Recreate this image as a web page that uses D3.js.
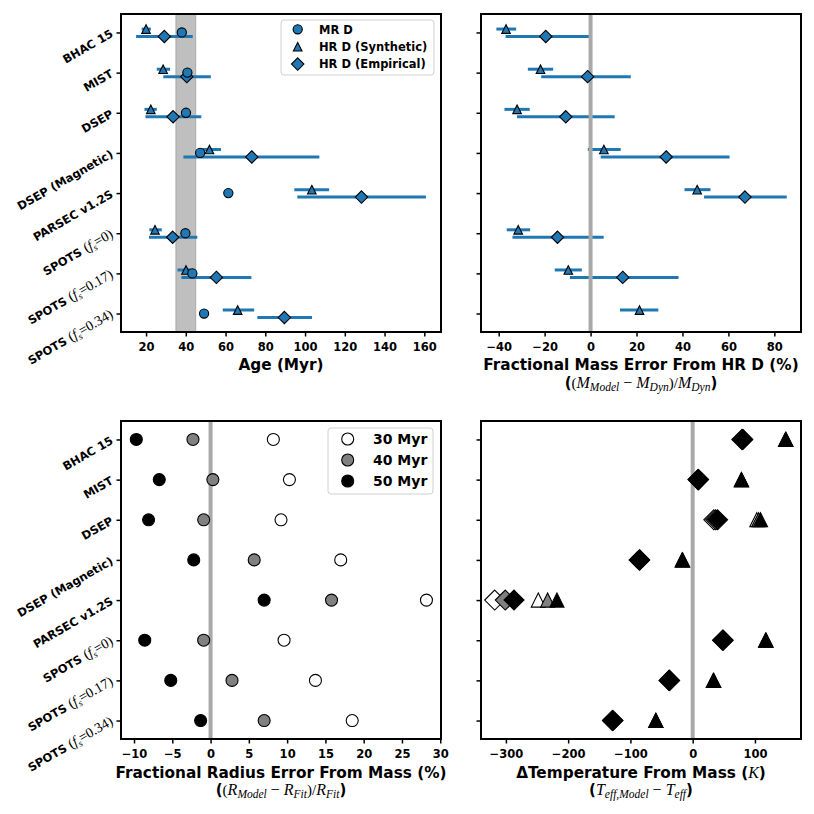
<!DOCTYPE html>
<html>
<head>
<meta charset="utf-8">
<script src="https://cdn.jsdelivr.net/npm/d3@7"></script>
<style>
body { margin: 0; background: #fff; }
text { font-family: "DejaVu Sans", sans-serif; }
</style>
</head>
<body>
<svg id="fig" width="814" height="814"></svg>
<script>
// ---- data ----
var models = ['BHAC 15', 'MIST', 'DSEP', 'DSEP (Magnetic)', 'PARSEC v1.2S', 'SPOTS', 'SPOTS', 'SPOTS'];
var spotFrac = [null, null, null, null, null, '0', '0.17', '0.34'];

// Age (Myr)
var ageMR     = [38.0, 40.8, 40.1, 47.2, 61.4, 39.8, 43.3, 49.2];
var ageSyn    = [20.0, 28.6, 22.4, 51.9, 103.4, 24.5, 40.1, 66.1];
var ageSynLo  = [17.8, 25.4, 19.2, 46.8, 94.6, 21.7, 35.8, 58.6];
var ageSynHi  = [22.4, 32.1, 25.4, 57.7, 112.1, 27.9, 42.5, 74.4];
var ageEmp    = [29.2, 40.5, 33.6, 73.2, 128.4, 33.4, 55.4, 89.6];
var ageEmpLo  = [15.0, 28.7, 19.7, 38.8, 96.1, 21.5, 37.8, 76.0];
var ageEmpHi  = [43.5, 52.6, 47.8, 107.2, 160.8, 45.8, 73.0, 103.5];
var ageBand   = [35, 45];

// fractional mass error from HR D (%)
var massSyn   = [-36.8, -21.8, -32.0, 5.8, 46.4, -31.5, -9.7, 21.3];
var massSynLo = [-41.0, -27.3, -37.5, -1.2, 40.9, -36.5, -15.6, 12.8];
var massSynHi = [-32.4, -16.3, -26.5, 13.1, 52.2, -26.3, -3.8, 29.5];
var massEmp   = [-19.5, -1.3, -10.8, 32.9, 67.2, -14.4, 14.0, null];
var massEmpLo = [-37.0, -21.5, -32.0, 4.4, 49.4, -34.0, -9.0, null];
var massEmpHi = [-0.3, 17.5, 10.5, 60.5, 85.4, 5.7, 38.3, null];

// fractional radius error from mass (%)
var rad30 = [8.2, 10.3, 9.2, 17.0, 28.2, 9.6, 13.7, 18.5];
var rad40 = [-2.3, 0.3, -0.9, 5.7, 15.8, -0.9, 2.8, 7.0];
var rad50 = [-9.7, -6.7, -8.1, -2.2, 7.0, -8.6, -5.2, -1.3];

// delta temperature from mass (K): diamonds (empirical) and triangles (synthetic)
var tEmp30 = [79, 8.5, 34, -86, -318, 48, -38, -129];
var tEmp40 = [80, 9, 37, -85.5, -301, 48.5, -37.5, -128.5];
var tEmp50 = [80.5, 9.5, 40, -85, -287, 49, -37, -128];
var tSyn30 = [149, 78, 103, -17, -248, 117, 33, -59.5];
var tSyn40 = [149.5, 78.5, 106, -16.5, -233, 117.5, 33.5, -59];
var tSyn50 = [150, 78.5, 109, -16, -218, 118, 34, -59];

var ageTicks  = [20, 40, 60, 80, 100, 120, 140, 160];
var massTicks = [-40, -20, 0, 20, 40, 60, 80];
var radTicks  = [-10, -5, 0, 5, 10, 15, 20, 25, 30];
var tempTicks = [-300, -200, -100, 0, 100];

var ageLegend = ['MR D', 'HR D (Synthetic)', 'HR D (Empirical)'];
var radLegend = ['30 Myr', '40 Myr', '50 Myr'];

// ---- styling ----
var blue = '#1f77b4';
var fills = ['#ffffff', '#808080', '#000000'];
var serif = '"Liberation Serif", "DejaVu Serif", serif';
var W = 320, H = 318;

var fig = d3.select('#fig');

function diamond(r) { return `M0,${-r}L${r},0L0,${r}L${-r},0Z`; }
function triangle(r) { return `M0,${-r}L${r},${r}L${-r},${r}Z`; }

// appends tspans; parts with sub get lowered by that many px
function rich(t, parts) {
	var shift = 0;
	parts.forEach(function (p) {
		var ts = t.append('tspan').text(p.t);
		if (p.serif) ts.attr('font-family', serif).attr('font-weight', 'normal');
		if (p.it) ts.attr('font-style', 'italic');
		if (p.size) ts.attr('font-size', p.size);
		var want = p.sub ? p.sub : 0;
		if (want != shift) { ts.attr('dy', want - shift); shift = want; }
	});
}

function panel(px, py, xDomain, xTicks, showLabels) {
	var g = fig.append('g').attr('transform', `translate(${px},${py})`);
	var x = d3.scaleLinear().domain(xDomain).range([0, W]);
	var y = d3.scaleLinear().domain([-0.46, models.length - 0.54]).range([0, H]);
	var back = g.append('g'), bars = g.append('g'), ref = g.append('g'), marks = g.append('g');

	var xa = g.append('g').attr('transform', `translate(0,${H})`)
		.call(d3.axisBottom(x).tickValues(xTicks).tickSize(4.5).tickPadding(6).tickSizeOuter(0));
	xa.select('.domain').remove();
	xa.selectAll('line').attr('stroke', '#000').attr('stroke-width', 1.5);
	xa.selectAll('text').attr('font-size', 11.5).attr('font-weight', 'bold')
		.attr('font-family', '"DejaVu Sans", sans-serif').attr('fill', '#000');

	var ya = g.append('g')
		.call(d3.axisLeft(y).tickValues(d3.range(models.length)).tickSize(4.5).tickFormat(''));
	ya.select('.domain').remove();
	ya.selectAll('line').attr('stroke', '#000').attr('stroke-width', 1.5);

	if (showLabels) {
		models.forEach(function (m, i) {
			var t = g.append('text')
				.attr('transform', `translate(-9,${y(i)}) rotate(-30)`)
				.attr('y', 4)
				.attr('text-anchor', 'end')
				.attr('font-size', 11.5).attr('font-weight', 'bold');
			if (spotFrac[i] == null) {
				t.text(m);
			} else {
				rich(t, [
					{ t: m + ' ' },
					{ t: '(', serif: true, size: 14 },
					{ t: 'f', serif: true, it: true, size: 14 },
					{ t: 's', serif: true, it: true, size: 9.5, sub: 3 },
					{ t: '=' + spotFrac[i] + ')', serif: true, size: 14 }
				]);
			}
		});
	}

	g.append('rect').attr('width', W).attr('height', H)
		.attr('fill', 'none').attr('stroke', '#000').attr('stroke-width', 2);

	return { g: g, x: x, y: y, back: back, bars: bars, ref: ref, marks: marks };
}

function xLabel(p, dyMain, dySub, mainParts, subParts) {
	var t = p.g.append('text').attr('x', W / 2).attr('y', H + dyMain)
		.attr('text-anchor', 'middle').attr('font-size', 15.3).attr('font-weight', 'bold');
	rich(t, mainParts);
	if (subParts) {
		var s = p.g.append('text').attr('x', W / 2).attr('y', H + dySub)
			.attr('text-anchor', 'middle').attr('font-size', 15).attr('font-weight', 'bold');
		rich(s, subParts);
	}
}

function errBars(p, lo, hi, off) {
	lo.forEach(function (l, i) {
		if (l == null) return;
		p.bars.append('line')
			.attr('x1', p.x(l)).attr('x2', p.x(hi[i]))
			.attr('y1', p.y(i + off)).attr('y2', p.y(i + off))
			.attr('stroke', blue).attr('stroke-width', 3);
	});
}

function refLine(p, v) {
	p.ref.append('line').attr('x1', p.x(v)).attr('x2', p.x(v))
		.attr('y1', 0).attr('y2', H)
		.attr('stroke', '#a9a9a9').attr('stroke-width', 4);
}

function plotShape(p, vals, kind, r, fill, off) {
	vals.forEach(function (v, i) {
		if (v == null) return;
		var cx = p.x(v), cy = p.y(i + off), m;
		if (kind == 'circle') {
			m = p.marks.append('circle').attr('cx', cx).attr('cy', cy).attr('r', r);
		} else {
			m = p.marks.append('path').attr('transform', `translate(${cx},${cy})`)
				.attr('d', kind == 'diamond' ? diamond(r) : triangle(r));
		}
		m.attr('fill', fill).attr('stroke', '#000').attr('stroke-width', 1.1);
	});
}

function ratioLabel(sym, sub1, sub2) {
	return [
		{ t: '(' },
		{ t: '(', serif: true, size: 15 },
		{ t: sym, serif: true, it: true, size: 16 },
		{ t: sub1, serif: true, it: true, size: 11.5, sub: 3 },
		{ t: ' \u2212 ', serif: true, size: 16 },
		{ t: sym, serif: true, it: true, size: 16 },
		{ t: sub2, serif: true, it: true, size: 11.5, sub: 3 },
		{ t: ')/', serif: true, size: 15 },
		{ t: sym, serif: true, it: true, size: 16 },
		{ t: sub2, serif: true, it: true, size: 11.5, sub: 3 },
		{ t: ')' }
	];
}

var synOff = -0.085, empOff = 0.1;

// ---- top left: ages ----
var tl = panel(121, 14, [7.4, 168.4], ageTicks, true);
tl.back.append('rect')
	.attr('x', tl.x(ageBand[0])).attr('width', tl.x(ageBand[1]) - tl.x(ageBand[0]))
	.attr('y', 0).attr('height', H)
	.attr('fill', '#808080').attr('fill-opacity', 0.5)
	.attr('stroke', '#808080').attr('stroke-opacity', 0.5);
errBars(tl, ageSynLo, ageSynHi, synOff);
errBars(tl, ageEmpLo, ageEmpHi, empOff);
plotShape(tl, ageEmp, 'diamond', 6.2, blue, empOff);
plotShape(tl, ageSyn, 'triangle', 4.3, blue, synOff);
plotShape(tl, ageMR, 'circle', 4.6, blue, 0);
xLabel(tl, 38, 55, [{ t: 'Age (Myr)' }], null);

// legend
var lg = tl.g.append('g').attr('transform', 'translate(160,6)');
lg.append('rect').attr('width', 153).attr('height', 55).attr('rx', 3)
	.attr('fill', '#fff').attr('fill-opacity', 0.8).attr('stroke', '#d0d0d0');
ageLegend.forEach(function (name, i) {
	var cy = 9.3 + i * 17.4, cx = 16.7;
	if (i == 0) lg.append('circle').attr('cx', cx).attr('cy', cy).attr('r', 4.6);
	else lg.append('path').attr('transform', `translate(${cx},${cy})`)
		.attr('d', i == 1 ? triangle(4.3) : diamond(6.2));
	lg.selectAll('circle,path').attr('fill', blue).attr('stroke', '#000').attr('stroke-width', 1.1);
	lg.append('text').attr('x', 38).attr('y', cy + 4.2)
		.attr('font-size', 11.5).attr('font-weight', 'bold').text(name);
});

// ---- top right: mass error ----
var tr = panel(481, 14, [-47.7, 91.6], massTicks, false);
errBars(tr, massSynLo, massSynHi, synOff);
errBars(tr, massEmpLo, massEmpHi, empOff);
refLine(tr, 0);
plotShape(tr, massEmp, 'diamond', 6.2, blue, empOff);
plotShape(tr, massSyn, 'triangle', 4.3, blue, synOff);
xLabel(tr, 38, 55.5, [{ t: 'Fractional Mass Error From HR D (%)' }], ratioLabel('M', 'Model', 'Dyn'));

// ---- bottom left: radius error ----
var bl = panel(121, 421, [-11.7, 30.1], radTicks, true);
refLine(bl, 0);
[rad30, rad40, rad50].forEach(function (vals, k) {
	plotShape(bl, vals, 'circle', 6, fills[k], 0);
});
xLabel(bl, 38.5, 56, [{ t: 'Fractional Radius Error From Mass (%)' }], ratioLabel('R', 'Model', 'Fit'));

var lg2 = bl.g.append('g').attr('transform', 'translate(207,7)');
lg2.append('rect').attr('width', 105).attr('height', 66).attr('rx', 3)
	.attr('fill', '#fff').attr('fill-opacity', 0.8).attr('stroke', '#d0d0d0');
radLegend.forEach(function (name, i) {
	var cy = 11 + i * 21;
	lg2.append('circle').attr('cx', 19.7).attr('cy', cy).attr('r', 6)
		.attr('fill', fills[i]).attr('stroke', '#000').attr('stroke-width', 1.1);
	lg2.append('text').attr('x', 45).attr('y', cy + 5.3)
		.attr('font-size', 14).attr('font-weight', 'bold').text(name);
});

// ---- bottom right: temperature ----
var br = panel(481, 421, [-340, 174], tempTicks, false);
refLine(br, 0);
[tEmp30, tEmp40, tEmp50].forEach(function (vals, k) {
	plotShape(br, vals, 'diamond', 10, fills[k], 0);
});
[tSyn30, tSyn40, tSyn50].forEach(function (vals, k) {
	plotShape(br, vals, 'triangle', 7, fills[k], 0);
});
xLabel(br, 38.5, 56, [
	{ t: '\u0394Temperature From Mass (' },
	{ t: 'K', serif: true, it: true, size: 16 },
	{ t: ')' }
], [
	{ t: '(' },
	{ t: 'T', serif: true, it: true, size: 16 },
	{ t: 'eff,Model', serif: true, it: true, size: 11.5, sub: 3 },
	{ t: ' \u2212 ', serif: true, size: 16 },
	{ t: 'T', serif: true, it: true, size: 16 },
	{ t: 'eff', serif: true, it: true, size: 11.5, sub: 3 },
	{ t: ')' }
]);
</script>
</body>
</html>
